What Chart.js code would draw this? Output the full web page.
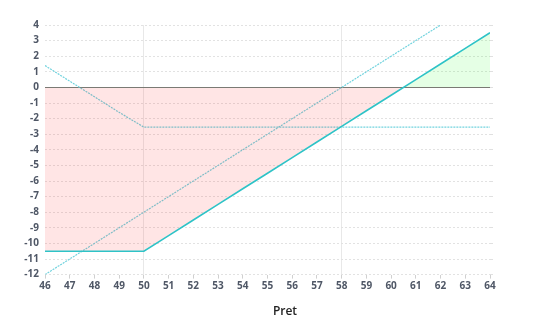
<!DOCTYPE html>
<html>
<head>
<meta charset="utf-8">
<script src="https://cdn.jsdelivr.net/npm/chart.js@4"></script>
<style>
  html, body { margin: 0; padding: 0; background: #fff; }
  #wrap { width: 550px; height: 330px; }
</style>
</head>
<body>
<div id="wrap"><canvas id="payoffChart" width="550" height="330"></canvas></div>
<script>
var prices = [46, 47, 48, 49, 50, 51, 52, 53, 54, 55, 56, 57, 58, 59, 60, 61, 62, 63, 64];
var profit = [-10.5, -10.5, -10.5, -10.5, -10.5, -9.5, -8.5, -7.5, -6.5, -5.5, -4.5, -3.5, -2.5, -1.5, -0.5, 0.5, 1.5, 2.5, 3.5];
var putLine = [1.4, 0.4, -0.6, -1.6, -2.55, -2.55, -2.55, -2.55, -2.55, -2.55, -2.55, -2.55, -2.55, -2.55, -2.55, -2.55, -2.55, -2.55, -2.55];
var stockLine = [-12, -11, -10, -9, -8, -7, -6, -5, -4, -3, -2, -1, 0, 1, 2, 3, 4];
var markedPrices = [50, 58];
var yTicks = { min: -12, max: 4, step: 1 };

function pts(values) {
    return values.map(function (v, i) { return { x: prices[i], y: v }; });
}

var tickFont = { family: 'Open Sans', size: 10, weight: 'bold' };

var ctx = document.getElementById('payoffChart').getContext('2d');
var myChart = new Chart(ctx, {
    type: 'line',
    data: {
        datasets: [{
            label: 'Profit',
            data: pts(profit),
            borderColor: '#2ec3c7',
            borderWidth: 1.6,
            pointRadius: 0,
            tension: 0,
            fill: {
                target: { value: 0 },
                above: 'rgba(0, 255, 0, 0.1)',
                below: 'rgba(255, 0, 0, 0.1)'
            }
        }, {
            label: 'Put',
            data: pts(putLine),
            borderColor: '#72d3de',
            borderWidth: 1.2,
            borderDash: [2, 1],
            pointRadius: 0,
            fill: false
        }, {
            label: 'Stock',
            data: pts(stockLine),
            borderColor: '#72d3de',
            borderWidth: 1.2,
            borderDash: [2, 1],
            pointRadius: 0,
            fill: false
        }]
    },
    options: {
        responsive: false,
        animation: false,
        events: [],
        layout: { padding: { top: 25, left: 24, right: 4, bottom: 0 } },
        plugins: {
            legend: { display: false },
            tooltip: { enabled: false },
            title: {
                display: true,
                position: 'bottom',
                text: 'Pret',
                color: '#222',
                font: { family: 'Open Sans', size: 12, weight: '600' },
                padding: { top: 10, bottom: 11 }
            }
        },
        scales: {
            x: {
                type: 'linear',
                min: 46,
                max: 64,
                ticks: { stepSize: 1, color: '#4f5766', font: tickFont, padding: 2 },
                grid: {
                    color: function (c) {
                        return markedPrices.indexOf(c.tick && c.tick.value) >= 0 ? 'rgba(0,0,0,0.09)' : 'rgba(0,0,0,0)';
                    },
                    tickColor: '#d0d0d0',
                    tickLength: 4
                },
                border: { display: false }
            },
            y: {
                min: yTicks.min,
                max: yTicks.max,
                ticks: { stepSize: yTicks.step, color: '#4f5766', font: tickFont, padding: 6 },
                grid: {
                    color: function (c) {
                        return c.tick && c.tick.value === 0 ? '#7a7a7a' : '#e2e2e2';
                    },
                    drawTicks: false
                },
                border: {
                    display: false,
                    dash: function (c) {
                        return c.tick && c.tick.value === 0 ? [] : [2, 2];
                    }
                },
                afterFit: function (scale) { scale.width = 21; }
            },
            y2: {
                position: 'right',
                min: yTicks.min,
                max: yTicks.max,
                ticks: { display: false, stepSize: yTicks.step },
                grid: { drawOnChartArea: false, tickColor: '#e0e0e0', tickLength: 3 },
                border: { display: false },
                afterFit: function (scale) { scale.width = 56; }
            }
        }
    }
});
</script>
</body>
</html>
